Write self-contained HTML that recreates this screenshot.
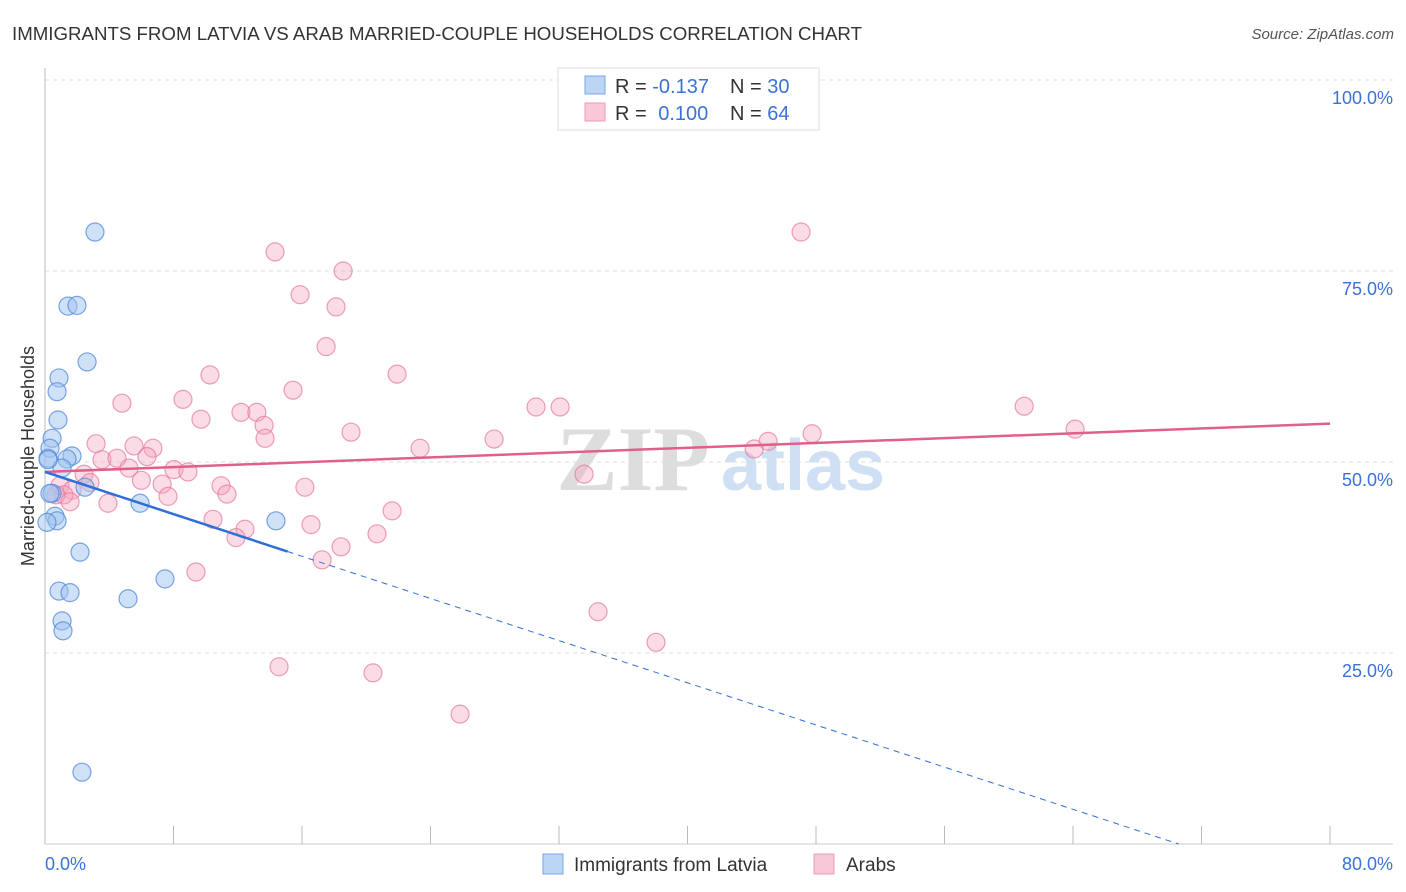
<!DOCTYPE html>
<html><head><meta charset="utf-8"><style>
body{margin:0;background:#fff;font-family:"Liberation Sans",sans-serif}
svg{display:block}
</style></head><body>
<svg width="1406" height="892" viewBox="0 0 1406 892">
<text x="12" y="40" font-size="18" fill="#333" textLength="850" lengthAdjust="spacingAndGlyphs">IMMIGRANTS FROM LATVIA VS ARAB MARRIED-COUPLE HOUSEHOLDS CORRELATION CHART</text>
<text x="1394" y="39" font-size="15" fill="#555" font-style="italic" text-anchor="end">Source: ZipAtlas.com</text>
<g>
<text x="633" y="490" font-size="92" font-family="Liberation Serif" fill="#ddd" text-anchor="middle" font-weight="bold">ZIP</text>
<text x="803" y="490" font-size="72" fill="#cfe0f4" text-anchor="middle" font-weight="bold">atlas</text>
</g>
<g id="grid"></g>
<g id="axes"></g>
<g id="marks"></g>
<text transform="translate(34,456) rotate(-90)" font-size="18" fill="#333" text-anchor="middle">Married-couple Households</text>
<g>
<rect x="558" y="68" width="261" height="62" fill="#fff" stroke="#ddd"/>
<rect x="585" y="76" width="20" height="18" fill="#bcd5f5" stroke="#7aa6e6"/>
<rect x="585" y="103" width="20" height="18" fill="#f9c8d6" stroke="#ec9ab3"/>
<text x="615" y="93" font-size="20" fill="#333">R = <tspan fill="#3a72d8">-0.137</tspan></text>
<text x="730" y="93" font-size="20" fill="#333">N = <tspan fill="#3a72d8">30</tspan></text>
<text x="615" y="120" font-size="20" fill="#333">R = <tspan fill="#3a72d8" dx="6">0.100</tspan></text>
<text x="730" y="120" font-size="20" fill="#333">N = <tspan fill="#3a72d8">64</tspan></text>
</g>
<g>
<rect x="543" y="854" width="20" height="20" fill="#bcd5f5" stroke="#7aa6e6"/>
<text x="574" y="871" font-size="19" fill="#333">Immigrants from Latvia</text>
<rect x="814" y="854" width="20" height="20" fill="#f9c8d6" stroke="#ec9ab3"/>
<text x="846" y="871" font-size="19" fill="#333">Arabs</text>
</g>
</svg>
<script>
const xTickLabels=["0.0%","80.0%"];
const yTicks=[25,50,75,100];
const yTickLabels=["25.0%","50.0%","75.0%","100.0%"];
const latviaX=[3.11,1.43,1.99,2.62,0.87,0.75,0.81,0.44,0.31,0.19,1.68,1.37,1.06,2.49,0.44,5.92,0.62,0.75,0.12,2.18,0.87,1.56,5.17,7.47,1.06,1.12,14.38,2.30,0.31,0.19];
const latviaY=[80.1,70.4,70.5,63.1,61.0,59.2,55.5,53.1,51.8,50.5,50.8,50.4,49.2,46.7,45.9,44.6,42.9,42.3,42.1,38.2,33.1,32.9,32.1,34.7,29.2,27.9,42.3,9.4,45.9,50.3];
const arabX=[47.07,14.32,18.56,15.88,18.12,17.50,21.92,10.27,15.44,8.59,4.79,30.57,32.07,60.96,12.20,13.19,9.71,13.64,19.05,64.13,27.96,47.76,45.02,13.70,3.18,5.54,6.72,23.35,44.15,6.35,3.55,4.48,5.23,8.03,8.90,2.43,6.00,7.29,10.96,16.18,33.56,2.80,0.93,1.68,11.33,7.66,1.18,0.68,3.92,1.56,21.61,10.46,16.56,12.45,11.89,20.67,18.43,17.25,9.40,34.43,38.04,14.57,20.42,25.84];
const arabY=[80.1,77.5,75.0,71.9,70.3,65.1,61.5,61.4,59.4,58.2,57.7,57.2,57.2,57.3,56.5,56.5,55.6,54.8,53.9,54.3,53.0,53.7,52.7,53.1,52.4,52.1,51.8,51.8,51.7,50.7,50.3,50.5,49.2,49.0,48.7,48.4,47.6,47.1,46.9,46.7,48.4,47.3,46.9,46.3,45.8,45.5,45.7,45.7,44.6,44.8,43.6,42.5,41.8,41.2,40.1,40.6,38.9,37.2,35.6,30.4,26.4,23.2,22.4,17.0];
const latviaTrend=[48.7,-0.69];
const arabTrend=[48.7,0.079];
const NS="http://www.w3.org/2000/svg";
const X0=45,X1=1330,Y0=844,PXY=7.64;
function sx(v){return X0+(X1-X0)*v/80;}
function sy(v){return Y0-v*PXY;}
function mk(tag,attrs,parent){const e=document.createElementNS(NS,tag);for(const k in attrs)e.setAttribute(k,attrs[k]);document.getElementById(parent).appendChild(e);return e;}
yTicks.forEach((t,i)=>{
 const l=mk('line',{x1:X0,x2:1393,y1:sy(t),y2:sy(t),stroke:'#ddd','stroke-dasharray':'4,4'},'grid');
 
 
 const tx=mk('text',{x:1393,y:sy(t)+24,'font-size':18,fill:'#3a72d8','text-anchor':'end'},'axes');
 tx.textContent=yTickLabels[i];
 
 
});
const ax=mk('line',{x1:X0,x2:X0,y1:68,y2:Y0,stroke:'#bbb'},'axes');


const bx=mk('line',{x1:X0,x2:1393,y1:Y0,y2:Y0,stroke:'#ccc'},'axes');


for(let i=0;i<=10;i++){
 const t=mk('line',{x1:sx(i*8),x2:sx(i*8),y1:826,y2:Y0,stroke:'#bbb'},'axes');
 
 
}
[[0,'start',X0],[80,'end',1393]].forEach((d,i)=>{
 const tx=mk('text',{x:d[2],y:870,'font-size':18,fill:'#3a72d8','text-anchor':d[1]},'axes');
 tx.textContent=xTickLabels[i];
 
 
});
arabX.forEach((x,i)=>{
 const c=mk('circle',{cx:sx(x),cy:sy(arabY[i]),r:9,fill:'rgba(244,166,190,0.4)',stroke:'rgba(230,120,155,0.7)','stroke-width':1.2},'marks');
 
 
});
latviaX.forEach((x,i)=>{
 const c=mk('circle',{cx:sx(x),cy:sy(latviaY[i]),r:9,fill:'rgba(160,196,240,0.5)',stroke:'rgba(80,135,220,0.75)','stroke-width':1.2},'marks');
 
 
});
const pl=mk('line',{x1:sx(0),y1:sy(arabTrend[0]),x2:sx(80),y2:sy(arabTrend[0]+arabTrend[1]*80),stroke:'#e0608a','stroke-width':2.5},'marks');


const solidEnd=15.1;
const bl=mk('line',{x1:sx(0),y1:sy(latviaTrend[0]),x2:sx(solidEnd),y2:sy(latviaTrend[0]+latviaTrend[1]*solidEnd),stroke:'#2f6fd6','stroke-width':2.5},'marks');


const zeroX=-latviaTrend[0]/latviaTrend[1];
const bd=mk('line',{x1:sx(solidEnd),y1:sy(latviaTrend[0]+latviaTrend[1]*solidEnd),x2:sx(zeroX),y2:sy(0),stroke:'#2f6fd6','stroke-width':1,'stroke-dasharray':'6,5'},'marks');


</script>
</body></html>
